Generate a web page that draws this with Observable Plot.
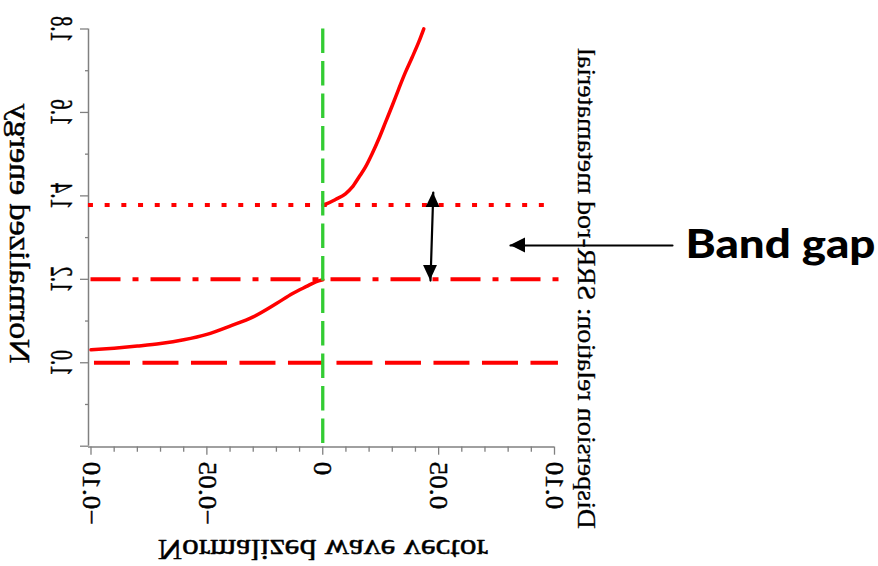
<!DOCTYPE html>
<html>
<head>
<meta charset="utf-8">
<script src="https://cdn.jsdelivr.net/npm/d3@7"></script>
<script src="https://cdn.jsdelivr.net/npm/@observablehq/plot@0.6"></script>
<style>
  html, body { margin: 0; padding: 0; background: #ffffff; }
  #chart svg { display: block; background: #ffffff; }
</style>
</head>
<body>
<div id="chart"></div>
<script>
// ---------- data ----------
// lower branch of the dispersion curve (normalized wave vector, normalized energy)
const lowerK = [-0.100, -0.090, -0.080, -0.070, -0.060, -0.050, -0.040, -0.030, -0.020, -0.013, -0.007, -0.003, 0.000];
const lowerE = [1.031, 1.035, 1.040, 1.046, 1.055, 1.068, 1.088, 1.110, 1.142, 1.166, 1.183, 1.194, 1.199];
// upper branch
const upperK = [0.0000, 0.0012, 0.0055, 0.0098, 0.0127, 0.0156, 0.0184, 0.0213, 0.0242, 0.0271, 0.0300, 0.0328, 0.0357, 0.0386, 0.0414, 0.0436];
const upperE = [1.3780, 1.3800, 1.3915, 1.4050, 1.4208, 1.4448, 1.4688, 1.5009, 1.5368, 1.5766, 1.6166, 1.6567, 1.6965, 1.7324, 1.7684, 1.8005];

// horizontal reference levels
const levelBase = 1.0;      // dashed
const levelGapLow = 1.2;    // dash-dot
const levelGapHigh = 1.378; // dotted
const levelBaseSpan = [-0.0985, 0.1017];
const levelGapLowSpan = [-0.1000, 0.1026];
const levelGapHighSpan = [-0.1011, 0.0985];
const lightLineK = 0;       // green dashed vertical

// axes
const xDomain = [-0.10, 0.10];
const yDomain = [0.8, 1.8];
const xTickValues = [-0.10, -0.05, 0, 0.05, 0.10];
const xTickLabels = ["\u22120.10", "\u22120.05", "0", "0.05", "0.10"];
const xMinorTicks = [-0.09, -0.08, -0.07, -0.06, -0.04, -0.03, -0.02, -0.01, 0.01, 0.02, 0.03, 0.04, 0.06, 0.07, 0.08, 0.09];
const yTickValues = [1.0, 1.2, 1.4, 1.6, 1.8];
const yTickLabels = ["1.0", "1.2", "1.4", "1.6", "1.8"];
const yMajorTicks = [0.8, 1.0, 1.2, 1.4, 1.6, 1.8];
const yMinorTicks = [0.9, 1.1, 1.3, 1.5, 1.7];
// axis line / tick extents (data units)
const yAxisK = -0.10108, yTickMajorK = -0.10453, yTickMinorK = -0.10238;
const xAxisE = 0.7981, xTickMajorE = 0.7784, xTickMinorE = 0.7856;

// texts
const xTitle = "Normalized wave vector";
const yTitle = "Normalized energy";
const chartTitle = "Dispersion relation: SRR-rod metamaterial";
const bandGapLabel = "Band gap";

// annotation arrows (data units)
const arrowHK = [0.0810, 0.1509], arrowHE = [1.2811, 1.2811];
const headHK = [0.0810, 0.0875], headHLow = [1.2811, 1.2631], headHHigh = [1.2811, 1.2991];
const arrowVK = [0.0477, 0.0465], arrowVE = [1.4080, 1.1970];
const headTopE = [1.4080, 1.3720], headTopLow = [0.0477, 0.0446], headTopHigh = [0.0477, 0.0506];
const headBotE = [1.1970, 1.2330], headBotLow = [0.0465, 0.0435], headBotHigh = [0.0465, 0.0495];
const bandGapPos = [0.1565, 1.283];

// ---------- build tables ----------
const lower = lowerK.map((k, i) => ({k, e: lowerE[i]}));
const upper = upperK.map((k, i) => ({k, e: upperE[i]}));
const arrowH = arrowHK.map((k, i) => ({k, e: arrowHE[i]}));
const headH = headHK.map((k, i) => ({k, e1: headHLow[i], e2: headHHigh[i]}));
const arrowV = arrowVK.map((k, i) => ({k, e: arrowVE[i]}));
const headTop = headTopE.map((e, i) => ({e, k1: headTopLow[i], k2: headTopHigh[i]}));
const headBot = headBotE.map((e, i) => ({e, k1: headBotLow[i], k2: headBotHigh[i]}));

const axisColor = "#808080";
const red = "#ff0000";
const green = "#33cc33";
const serif = "Liberation Serif";
const ink = {fill: "#000", stroke: "#000", strokeWidth: 0.45};

const chart = Plot.plot({
  width: 878,
  height: 566,
  marginLeft: 90.5,
  marginRight: 324,
  marginTop: 28.5,
  marginBottom: 120.3,
  x: {domain: xDomain, axis: null},
  y: {domain: yDomain, axis: null},
  marks: [
    // axis lines
    Plot.ruleX([yAxisK], {x: d => d, y1: yDomain[0], y2: yDomain[1], stroke: axisColor, strokeWidth: 1.5}),
    Plot.ruleY([xAxisE], {y: d => d, x1: yAxisK, x2: xDomain[1], stroke: axisColor, strokeWidth: 1.5}),
    // ticks
    Plot.ruleY(yMajorTicks, {y: d => d, x1: yTickMajorK, x2: yAxisK, stroke: axisColor, strokeWidth: 1.3}),
    Plot.ruleY(yMinorTicks, {y: d => d, x1: yTickMinorK, x2: yAxisK, stroke: axisColor, strokeWidth: 1.3}),
    Plot.ruleX(xTickValues, {x: d => d, y1: xAxisE, y2: xTickMajorE, stroke: axisColor, strokeWidth: 1.3}),
    Plot.ruleX(xMinorTicks, {x: d => d, y1: xAxisE, y2: xTickMinorE, stroke: axisColor, strokeWidth: 1.3}),
    // reference levels
    Plot.ruleY([levelBase], {y: d => d, x1: levelBaseSpan[0], x2: levelBaseSpan[1], stroke: red, strokeWidth: 4, strokeDasharray: "36,12.5"}),
    Plot.ruleY([levelGapLow], {y: d => d, x1: levelGapLowSpan[0], x2: levelGapLowSpan[1], stroke: red, strokeWidth: 4, strokeDasharray: "30,12,6,12"}),
    Plot.ruleY([levelGapHigh], {y: d => d, x1: levelGapHighSpan[0], x2: levelGapHighSpan[1], stroke: red, strokeWidth: 4, strokeDasharray: "5,11.7"}),
    // dispersion curve
    Plot.line(lower, {x: "k", y: "e", stroke: red, strokeWidth: 3.5, curve: "monotone-x"}),
    Plot.line(upper, {x: "k", y: "e", stroke: red, strokeWidth: 3.5, curve: "monotone-x"}),
    // light line (vertical green dashed)
    Plot.ruleX([lightLineK], {x: d => d, y1: yDomain[1], y2: yDomain[0], stroke: green, strokeWidth: 3.3, strokeDasharray: "24.5,8"}),
    // annotation arrows
    Plot.line(arrowV, {x: "k", y: "e", stroke: "#000", strokeWidth: 2.2}),
    Plot.areaX(headTop, {y: "e", x1: "k1", x2: "k2", fill: "#000"}),
    Plot.areaX(headBot, {y: "e", x1: "k1", x2: "k2", fill: "#000"}),
    Plot.line(arrowH, {x: "k", y: "e", stroke: "#000", strokeWidth: 2.2}),
    Plot.areaY(headH, {x: "k", y1: "e1", y2: "e2", fill: "#000"}),
    // tick labels (mirrored like the original)
    Plot.text(yTickValues, {y: d => d, text: (d, i) => yTickLabels[i], frameAnchor: "left", dx: -29.5, dy: 0, rotate: -90, textAnchor: "middle", lineAnchor: "middle", fontFamily: serif, fontSize: 32, ...ink}),
    Plot.text(xTickValues, {x: d => d, text: (d, i) => xTickLabels[i], frameAnchor: "bottom", dy: 15.3, rotate: -90, textAnchor: "end", lineAnchor: "middle", fontFamily: serif, fontSize: 26, ...ink}),
    // titles
    Plot.text([yTitle], {text: d => d, frameAnchor: "left", dx: -71.5, dy: -4, rotate: -90, textAnchor: "middle", lineAnchor: "middle", fontFamily: serif, fontSize: 30, ...ink}),
    Plot.text([xTitle], {text: d => d, frameAnchor: "bottom", dy: 103, textAnchor: "middle", lineAnchor: "middle", fontFamily: serif, fontSize: 29, ...ink}),
    Plot.text([chartTitle], {text: d => d, frameAnchor: "right", dx: 32, dy: 51, rotate: -90, textAnchor: "middle", lineAnchor: "middle", fontFamily: serif, fontSize: 26, fill: "#000", stroke: "#000", strokeWidth: 0.25}),
    Plot.text([bandGapLabel], {text: d => d, x: bandGapPos[0], y: bandGapPos[1], textAnchor: "start", lineAnchor: "middle", fontFamily: "Lato", fontWeight: 900, fontSize: 40, fill: "#000"})
  ]
});

document.getElementById("chart").appendChild(chart);

// ---------- mirror text glyphs & fit lengths ----------
function flipText(el) {
  const t = el.getAttribute("transform") || "";
  el.setAttribute("transform", (t + " scale(1,-1)").trim());
}
function fit(el, len) {
  el.setAttribute("textLength", len);
  el.setAttribute("lengthAdjust", "spacingAndGlyphs");
}
const flipLengths = new Map();
yTickLabels.forEach(s => flipLengths.set(s, () => 26));
xTickLabels.forEach(s => flipLengths.set(s, el => el.getComputedTextLength() * 1.05));
flipLengths.set(yTitle, () => 260);
flipLengths.set(xTitle, () => 330);
flipLengths.set(chartTitle, () => 481);

chart.querySelectorAll("text").forEach(el => {
  const s = el.textContent;
  if (flipLengths.has(s)) {
    fit(el, flipLengths.get(s)(el));
    flipText(el);
  } else if (s === bandGapLabel) {
    fit(el, 190);
  }
});
</script>
</body>
</html>
